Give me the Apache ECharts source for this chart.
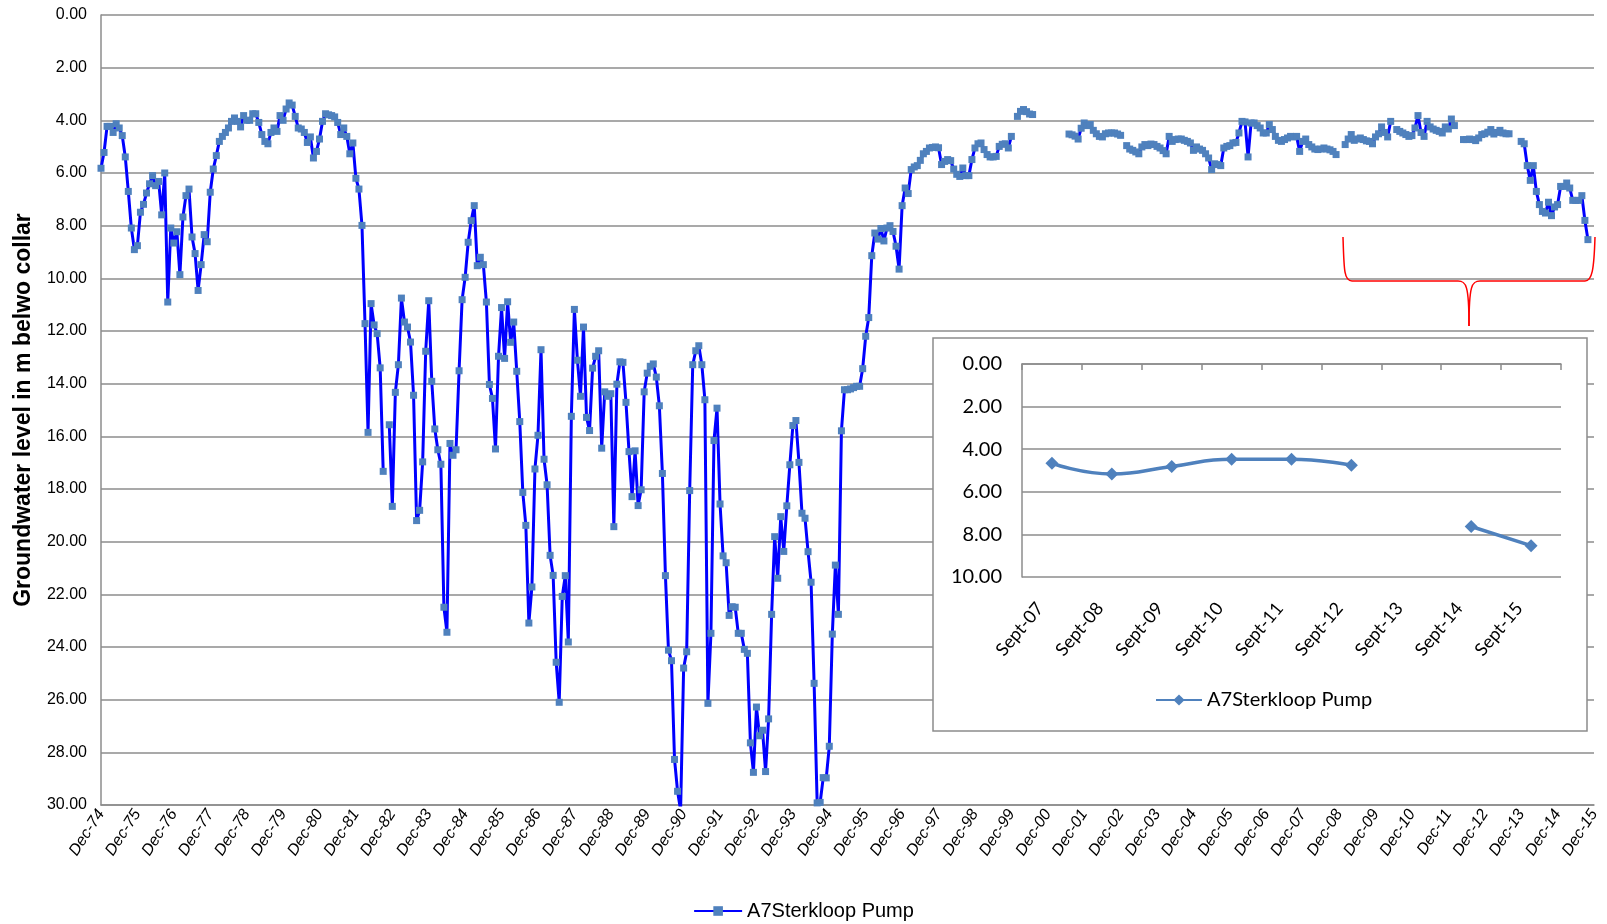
<!DOCTYPE html>
<html>
<head>
<meta charset="utf-8">
<script src="https://cdn.jsdelivr.net/npm/echarts@6/dist/echarts.min.js"></script>
<style>
  html, body { margin: 0; padding: 0; background: #fff; }
  #chart { width: 1607px; height: 924px; }
</style>
</head>
<body>
<div id="chart"></div>
<script>
// monthly groundwater levels (m below collar), first value = Dec-74, null = no reading
const levels1975to1981 = [
  5.82, 5.22, 4.23, 4.23, 4.46, 4.13, 4.29, 4.58, 5.39, 6.70, 8.09, 8.91,
  8.76, 7.49, 7.19, 6.76, 6.41, 6.10, 6.48, 6.32, 7.59, 6.00, 10.90, 8.09,
  8.66, 8.23, 9.86, 7.67, 6.86, 6.61, 8.43, 9.06, 10.46, 9.48, 8.34, 8.61,
  6.73, 5.85, 5.34, 4.80, 4.61, 4.46, 4.29, 4.04, 3.91, 4.04, 4.25, 3.82,
  4.00, 4.00, 3.75, 3.75, 4.08, 4.54, 4.80, 4.89, 4.46, 4.29, 4.42, 3.82,
  4.00, 3.57, 3.34, 3.42, 3.85, 4.29, 4.33, 4.46, 4.84, 4.63, 5.43, 5.18,
  4.71, 4.04, 3.75, 3.79, 3.82, 3.87, 4.08, 4.54, 4.29, 4.61, 5.27, 4.86
];
const levels1982to1988 = [
  6.20, 6.61, 7.99, 11.72, 15.85, 10.96, 11.77, 12.10, 13.40, 17.33, null, 15.56,
  18.66, 14.33, 13.28, 10.75, 11.66, 11.85, 12.42, 14.44, 19.20, 18.81, 16.97, 12.77,
  10.85, 13.91, 15.72, 16.51, 17.06, 22.49, 23.44, 16.27, 16.72, 16.51, 13.51, 10.81,
  9.96, 8.63, 7.81, 7.24, 9.52, 9.20, 9.48, 10.90, 14.03, 14.56, 16.48, 12.96,
  11.11, 13.04, 10.89, 12.43, 11.66, 13.53, 15.44, 18.13, 19.38, 23.09, 21.72, 17.24,
  15.96, 12.71, 16.87, 17.84, 20.52, 21.28, 24.58, 26.10, 22.08, 21.29, 23.81, 15.24,
  11.18, 13.11, 14.48, 11.85, 15.28, 15.78, 13.41, 12.96, 12.75, 16.45, 14.31, 14.48
];
const levels1989to1995 = [
  14.38, 19.43, 14.02, 13.17, 13.19, 14.71, 16.58, 18.29, 16.55, 18.63, 18.03, 14.31,
  13.60, 13.34, 13.25, 13.75, 14.84, 17.41, 21.29, 24.12, 24.52, 28.27, 29.48, 30.20,
  24.80, 24.18, 18.06, 13.28, 12.75, 12.56, 13.28, 14.61, 26.14, 23.48, 16.16, 14.93,
  18.57, 20.54, 20.80, 22.80, 22.47, 22.49, 23.48, 23.48, 24.09, 24.24, 27.64, 28.76,
  26.28, 27.37, 27.16, 28.73, 26.73, 22.76, 19.81, 21.39, 19.05, 20.37, 18.64, 17.08,
  15.59, 15.40, 16.99, 18.92, 19.11, 20.38, 21.54, 25.38, 29.92, 29.90, 28.96, 28.97,
  27.77, 23.51, 20.89, 22.76, 15.79, 14.23, 14.23, 14.20, 14.15, 14.10, 14.10, 13.43
];
const levels1996to2002 = [
  12.20, 11.49, 9.14, 8.28, 8.51, 8.11, 8.58, 8.09, 8.00, 8.22, 8.78, 9.65,
  7.24, 6.57, 6.78, 5.87, 5.77, 5.72, 5.52, 5.27, 5.18, 5.05, 5.03, 5.01,
  5.04, 5.68, 5.56, 5.49, 5.53, 5.85, 6.05, 6.13, 5.81, 6.10, 6.10, 5.49,
  5.05, 4.89, 4.86, 5.11, 5.30, 5.39, 5.39, 5.37, 4.99, 4.91, 4.89, 5.05,
  4.61, null, 3.85, 3.66, 3.59, 3.67, 3.76, 3.78, null, null, null, null,
  null, null, null, null, null, null, null, 4.52, 4.55, 4.60, 4.71, 4.30,
  4.10, 4.20, 4.16, 4.38, 4.51, 4.61, 4.63, 4.51, 4.48, 4.48, 4.48, 4.52
];
const levels2003to2009 = [
  4.57, null, 4.96, 5.09, 5.14, 5.20, 5.27, 5.01, 4.92, 4.96, 4.90, 4.92,
  4.99, 5.05, 5.15, 5.27, 4.61, 4.80, 4.73, 4.71, 4.71, 4.76, 4.80, 4.86,
  5.14, 5.01, 5.09, 5.14, 5.27, 5.43, 5.87, 5.65, 5.68, 5.72, 5.05, 4.99,
  4.96, 4.86, 4.84, 4.48, 4.04, 4.06, 5.39, 4.10, 4.10, 4.20, 4.29, 4.48,
  4.48, 4.16, 4.35, 4.61, 4.76, 4.80, 4.73, 4.67, 4.61, 4.63, 4.61, 5.18,
  4.80, 4.71, 4.92, 5.01, 5.09, 5.11, 5.09, 5.05, 5.09, 5.12, 5.18, 5.30,
  null, null, 4.92, 4.71, 4.54, 4.76, 4.71, 4.67, 4.73, 4.78, 4.80, 4.89
];
const levels2010to2015 = [
  4.63, 4.51, 4.25, 4.46, 4.63, 4.04, null, 4.35, 4.42, 4.48, 4.54, 4.61,
  4.58, 4.29, 3.82, 4.46, 4.61, 4.04, 4.25, 4.33, 4.38, 4.42, 4.48, 4.25,
  4.33, 3.95, 4.20, null, null, 4.73, 4.73, 4.71, 4.73, 4.77, 4.67, 4.54,
  4.51, 4.45, 4.35, 4.52, 4.46, 4.38, 4.48, 4.51, 4.51, null, null, null,
  4.80, 4.89, 5.72, 6.28, 5.72, 6.70, 7.20, 7.46, 7.52, 7.11, 7.62, 7.29,
  7.20, 6.51, 6.51, 6.38, 6.57, 7.04, 7.04, 7.04, 6.86, 7.80, 8.53
];

// inset: annual September readings
const insetLabels = ['Sept-07', 'Sept-08', 'Sept-09', 'Sept-10', 'Sept-11', 'Sept-12', 'Sept-13', 'Sept-14', 'Sept-15'];
const insetValues = [4.66, 5.16, 4.81, 4.47, 4.47, 4.75, null, 7.63, 8.53];

const seriesName = 'A7Sterkloop Pump';
const totalMonths = 492; // Dec-74 .. Dec-15

const levels = [].concat(levels1975to1981, levels1982to1988, levels1989to1995,
  levels1996to2002, levels2003to2009, levels2010to2015);
const mainData = levels.map((v, i) => [i, v === null ? '-' : v]);

const monthLabel = v => {
  const yr = (74 + Math.round(v / 12)) % 100;
  return 'Dec-' + String(yr).padStart(2, '0');
};

const gridGrey = '#8c8c8c';
const mainFont = 'Liberation Sans, Arial, sans-serif';
const insetFont = 'Lato, sans-serif';

// red brace over the 2007-2015 stretch (pieces of one curly bracket)
const braceStyle = { stroke: '#ff0000', lineWidth: 1.5, fill: 'none' };
const bracePieces = [
  { type: 'bezierCurve', shape: { x1: 1343, y1: 237, cpx1: 1344, cpy1: 270, cpx2: 1344, cpy2: 281, x2: 1352, y2: 281 } },
  { type: 'line', shape: { x1: 1352, y1: 281, x2: 1458, y2: 281 } },
  { type: 'bezierCurve', shape: { x1: 1458, y1: 281, cpx1: 1466, cpy1: 281, cpx2: 1469, cpy2: 285, x2: 1469, y2: 326 } },
  { type: 'bezierCurve', shape: { x1: 1469, y1: 326, cpx1: 1469, cpy1: 285, cpx2: 1472, cpy2: 281, x2: 1480, y2: 281 } },
  { type: 'line', shape: { x1: 1480, y1: 281, x2: 1585, y2: 281 } },
  { type: 'bezierCurve', shape: { x1: 1585, y1: 281, cpx1: 1592, cpy1: 281, cpx2: 1594, cpy2: 270, x2: 1595, y2: 237 } }
].map(p => Object.assign(p, { z: 50, style: braceStyle }));

const chart = echarts.init(document.getElementById('chart'));

chart.setOption({
  animation: false,
  backgroundColor: '#fff',
  grid: [
    { left: 101, right: 13, top: 15, bottom: 119 },
    { left: 1022, right: 46, top: 364, bottom: 347 }
  ],
  legend: [
    {
      data: [seriesName],
      left: 'center',
      top: 896,
      itemWidth: 48,
      itemHeight: 12,
      textStyle: { fontFamily: mainFont, fontSize: 20, color: '#000' }
    },
    {
      data: ['inset'],
      left: 1150,
      top: 685,
      z: 62,
      itemWidth: 46,
      itemHeight: 14,
      formatter: () => seriesName,
      textStyle: { fontFamily: insetFont, fontSize: 20, color: '#000' }
    }
  ],
  xAxis: [
    {
      type: 'value',
      gridIndex: 0,
      min: 0,
      max: totalMonths,
      interval: 12,
      axisLine: { onZero: false, lineStyle: { color: gridGrey, width: 1.5 } },
      axisTick: { show: false },
      splitLine: { show: false },
      axisLabel: {
        formatter: monthLabel,
        rotate: 57,
        margin: 6,
        fontFamily: mainFont,
        fontStyle: 'italic',
        fontSize: 16,
        color: '#000',
        showMinLabel: true,
        showMaxLabel: true,
        hideOverlap: false
      }
    },
    {
      type: 'category',
      gridIndex: 1,
      data: insetLabels,
      boundaryGap: true,
      z: 60,
      axisLine: { lineStyle: { color: gridGrey, width: 1.5 } },
      axisTick: { show: true, interval: 0, length: 6, lineStyle: { color: gridGrey, width: 1.5 } },
      axisLabel: {
        interval: 0,
        rotate: 50,
        margin: 14,
        formatter: v => v + '\u00a0\u00a0\u00a0\u00a0',
        fontFamily: insetFont,
        fontSize: 18,
        color: '#000'
      }
    }
  ],
  yAxis: [
    {
      type: 'value',
      gridIndex: 0,
      inverse: true,
      min: 0,
      max: 30,
      interval: 2,
      name: 'Groundwater level in m belwo collar',
      nameLocation: 'middle',
      nameRotate: 90,
      nameGap: 66,
      nameTextStyle: { fontFamily: mainFont, fontWeight: 'bold', fontSize: 23, color: '#000' },
      axisLine: { show: true, lineStyle: { color: gridGrey, width: 1.5 } },
      axisTick: { show: false },
      splitLine: { lineStyle: { color: gridGrey, width: 1.5 } },
      axisLabel: {
        formatter: v => v.toFixed(2),
        margin: 14,
        fontFamily: mainFont,
        fontSize: 16,
        color: '#000'
      }
    },
    {
      type: 'value',
      gridIndex: 1,
      inverse: true,
      min: 0,
      max: 10,
      interval: 2,
      z: 60,
      axisLine: { show: true, lineStyle: { color: gridGrey, width: 1.5 } },
      axisTick: { show: false },
      splitLine: { lineStyle: { color: gridGrey, width: 1.5 } },
      axisLabel: {
        formatter: v => v.toFixed(2),
        margin: 20,
        fontFamily: insetFont,
        fontSize: 20,
        color: '#000'
      }
    }
  ],
  graphic: {
    elements: [
      {
        type: 'rect',
        z: 50,
        shape: { x: 933, y: 338, width: 654, height: 393 },
        style: { fill: '#fff', stroke: '#8c8c8c', lineWidth: 1.5 }
      }
    ].concat(bracePieces)
  },
  series: [
    {
      name: seriesName,
      type: 'line',
      xAxisIndex: 0,
      yAxisIndex: 0,
      data: mainData,
      connectNulls: false,
      showSymbol: true,
      showAllSymbol: true,
      symbol: 'rect',
      symbolSize: 7,
      lineStyle: { color: '#0000ff', width: 3 },
      itemStyle: { color: '#4f81bd' },
      emphasis: { disabled: true },
      z: 2
    },
    {
      name: 'inset',
      type: 'line',
      xAxisIndex: 1,
      yAxisIndex: 1,
      data: insetValues.map(v => (v === null ? '-' : v)),
      smooth: true,
      connectNulls: false,
      symbol: 'diamond',
      symbolSize: 13,
      lineStyle: { color: '#4f81bd', width: 3.5 },
      itemStyle: { color: '#4f81bd' },
      emphasis: { disabled: true },
      z: 61
    }
  ]
});
</script>
</body>
</html>
